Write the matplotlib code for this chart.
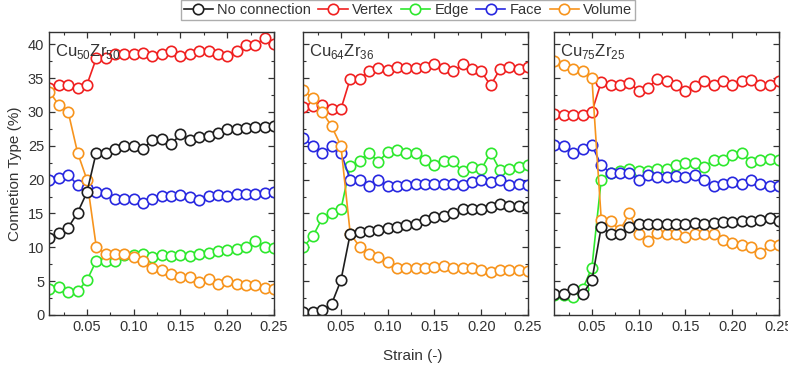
import numpy as np
import matplotlib
matplotlib.use("Agg")
import matplotlib.pyplot as plt
from matplotlib.ticker import MultipleLocator

plt.rcParams['font.family'] = ['Liberation Sans', 'DejaVu Sans']
plt.rcParams['mathtext.fontset'] = 'custom'
plt.rcParams['mathtext.rm'] = 'Liberation Sans'

# strain values (shared by all panels)
strain = [0.01, 0.02, 0.03, 0.04, 0.05, 0.06, 0.07, 0.08, 0.09, 0.10,
          0.11, 0.12, 0.13, 0.14, 0.15, 0.16, 0.17, 0.18, 0.19, 0.20,
          0.21, 0.22, 0.23, 0.24, 0.25]

panel_titles = [r'Cu$_\mathrm{50}$Zr$_\mathrm{50}$',
                r'Cu$_\mathrm{64}$Zr$_\mathrm{36}$',
                r'Cu$_\mathrm{75}$Zr$_\mathrm{25}$']

# Cu50Zr50
none_50 = [11.3, 12.1, 12.9, 15.1, 18.1, 24.0, 24.0, 24.5, 25.0, 25.0,
           24.5, 25.9, 26.0, 25.2, 26.7, 25.9, 26.3, 26.5, 26.9, 27.5,
           27.5, 27.6, 27.7, 27.8, 27.9]
vertex_50 = [33.5, 34.0, 34.0, 33.6, 34.0, 37.9, 37.9, 38.5, 38.6, 38.6,
             38.7, 38.2, 38.5, 39.0, 38.3, 38.5, 39.0, 39.0, 38.5, 38.3,
             39.0, 39.9, 39.9, 40.9, 40.0]
edge_50 = [3.9, 4.1, 3.4, 3.5, 5.1, 8.0, 8.0, 8.0, 8.8, 8.8,
           9.0, 8.6, 8.9, 8.7, 8.9, 8.7, 9.0, 9.1, 9.5, 9.6,
           9.7, 10.0, 11.0, 10.1, 9.9]
face_50 = [20.0, 20.3, 20.7, 19.2, 18.7, 18.1, 18.0, 17.1, 17.1, 17.1,
           16.5, 17.1, 17.6, 17.6, 17.7, 17.5, 17.0, 17.6, 17.7, 17.6,
           17.9, 17.9, 17.9, 18.0, 18.1]
volume_50 = [33.0, 31.0, 30.0, 24.0, 20.0, 10.1, 9.0, 9.0, 9.0, 8.6,
             8.0, 7.0, 6.7, 6.0, 5.6, 5.6, 4.9, 5.3, 4.6, 5.0,
             4.6, 4.5, 4.5, 4.0, 3.9]

# Cu64Zr36
none_64 = [0.5, 0.5, 0.7, 1.6, 5.1, 12.0, 12.3, 12.4, 12.5, 12.8,
           13.0, 13.3, 13.4, 14.0, 14.5, 14.6, 15.0, 15.7, 15.6, 15.7,
           16.0, 16.4, 16.1, 16.1, 16.0]
vertex_64 = [30.7, 30.8, 31.0, 30.4, 30.4, 34.9, 34.9, 36.0, 36.5, 36.2,
             36.7, 36.5, 36.5, 36.7, 37.0, 36.5, 36.0, 37.0, 36.4, 36.0,
             33.9, 36.3, 36.7, 36.3, 36.7]
edge_64 = [10.1, 11.6, 14.3, 15.0, 15.6, 22.0, 22.8, 24.0, 22.6, 24.1,
           24.4, 23.9, 24.0, 22.9, 22.1, 22.7, 22.7, 21.2, 21.8, 21.5,
           24.0, 21.4, 21.5, 21.9, 22.1]
face_64 = [26.2, 24.9, 24.0, 24.9, 24.0, 20.0, 20.0, 19.0, 19.9, 19.0,
           19.0, 19.2, 19.4, 19.4, 19.4, 19.4, 19.4, 19.2, 19.7, 19.9,
           19.7, 20.0, 19.2, 19.4, 19.2]
volume_64 = [33.2, 32.0, 30.0, 27.9, 25.0, 12.0, 10.1, 9.0, 8.5, 7.9,
             7.0, 7.0, 7.0, 7.0, 7.1, 7.2, 7.0, 6.9, 6.9, 6.6,
             6.4, 6.7, 6.7, 6.7, 6.5]

# Cu75Zr25
none_75 = [3.1, 3.1, 3.9, 3.1, 5.1, 13.0, 12.0, 12.0, 13.0, 13.4,
           13.5, 13.5, 13.5, 13.5, 13.5, 13.6, 13.5, 13.6, 13.8, 13.8,
           13.9, 13.9, 14.0, 14.4, 13.9]
vertex_75 = [29.7, 29.6, 29.6, 29.6, 30.0, 34.4, 33.9, 33.9, 34.3, 33.1,
             33.5, 34.9, 34.5, 33.9, 33.1, 33.8, 34.5, 33.9, 34.5, 33.9,
             34.5, 34.7, 33.9, 33.9, 34.5]
edge_75 = [3.0, 3.0, 2.6, 3.8, 7.0, 20.0, 21.0, 21.2, 21.5, 21.3,
           21.3, 21.6, 21.6, 22.1, 22.5, 22.5, 21.9, 22.9, 22.9, 23.6,
           23.9, 22.6, 22.9, 23.0, 22.9]
face_75 = [25.1, 25.0, 24.0, 24.5, 25.1, 22.1, 21.0, 21.0, 21.0, 20.0,
           20.7, 20.4, 20.4, 20.5, 20.4, 20.7, 19.9, 19.0, 19.3, 19.7,
           19.4, 20.0, 19.3, 19.0, 19.0]
volume_75 = [37.5, 36.9, 36.4, 36.0, 35.0, 14.1, 13.9, 12.5, 15.0, 12.0,
             11.0, 12.1, 12.0, 12.0, 11.5, 12.0, 12.0, 12.0, 11.1, 10.6,
             10.3, 10.0, 9.1, 10.3, 10.3]

series_names = ['No connection', 'Vertex', 'Edge', 'Face', 'Volume']
colors = ['#1e1e1e', '#f02020', '#2ee82e', '#2828e0', '#f7941d']

panels = [
    [none_50, vertex_50, edge_50, face_50, volume_50],
    [none_64, vertex_64, edge_64, face_64, volume_64],
    [none_75, vertex_75, edge_75, face_75, volume_75],
]

fig = plt.figure(figsize=(7.88, 3.76), dpi=100)
W, H = 788, 376
lefts = [49, 303, 554]
axes = []
for i, left in enumerate(lefts):
    ax = fig.add_axes([left / W, (H - 315) / H, 225 / W, 283 / H])
    axes.append(ax)

# drawing order: coloured series first, black on top
draw_order = [1, 2, 3, 4, 0]
handles = {}
for ax, data, title in zip(axes, panels, panel_titles):
    for k in draw_order:
        line, = ax.plot(strain, data[k], color=colors[k], lw=1.2,
                        marker='o', ms=7.5, mfc='white', mec=colors[k], mew=1.2,
                        label=series_names[k])
        handles[k] = line
    ax.set_xlim(0.0095, 0.25)
    ax.set_ylim(0, 41.8)
    ax.xaxis.set_major_locator(MultipleLocator(0.05))
    ax.xaxis.set_minor_locator(MultipleLocator(0.025))
    ax.yaxis.set_major_locator(MultipleLocator(5))
    ax.yaxis.set_minor_locator(MultipleLocator(2.5))
    ax.xaxis.set_major_formatter(plt.FuncFormatter(lambda v, p: f'{v:.2f}'))
    ax.tick_params(which='both', direction='in', top=True, right=True,
                   colors='#333333', labelsize=10.5, labelcolor='#333333')
    ax.tick_params(which='major', length=4, width=0.9)
    ax.tick_params(which='minor', length=2.5, width=0.8)
    for sp in ax.spines.values():
        sp.set_color('#333333')
        sp.set_linewidth(1.0)
    ax.text(0.025, 0.965, title, transform=ax.transAxes, ha='left', va='top',
            fontsize=12, color='#333333')

for ax in axes[1:]:
    ax.tick_params(labelleft=False)

axes[0].set_ylabel('Connetion Type (%)', fontsize=11, color='#333333', labelpad=4)
fig.text(413 / W, 1 - 356 / H, 'Strain (-)', ha='center', va='center',
         fontsize=11, color='#333333')

fig.legend([handles[k] for k in range(5)], series_names, loc='center',
           bbox_to_anchor=(408 / W, 1 - 10 / H), ncol=5, frameon=True,
           fancybox=False, edgecolor='#999999', fontsize=10.5,
           handlelength=2.0, handletextpad=0.3, columnspacing=0.5,
           borderpad=0.2, borderaxespad=0, labelcolor='#333333')

fig.savefig('out.png', dpi=100)
